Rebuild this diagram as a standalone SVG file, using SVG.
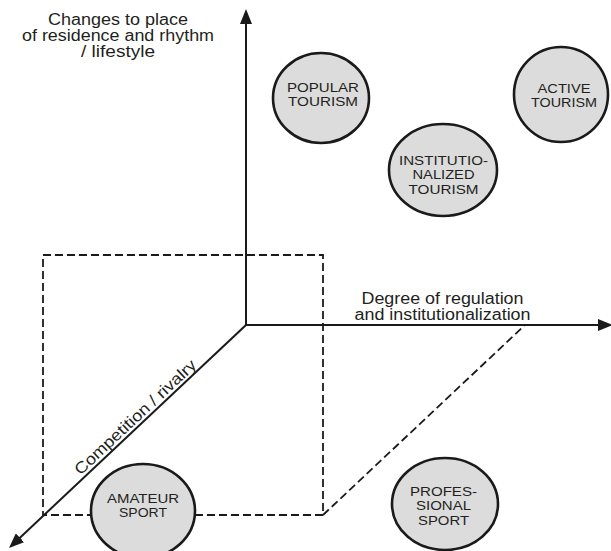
<svg xmlns="http://www.w3.org/2000/svg" width="611" height="551" viewBox="0 0 611 551">
<style>
.axis{stroke:#1a1a1a;stroke-width:2;fill:none}
.dash{stroke:#1a1a1a;stroke-width:1.8;fill:none;stroke-dasharray:8 4}
.node ellipse{fill:#dcdcdc;stroke:#1a1a1a;stroke-width:2.6}
.node text{font-family:"Liberation Sans",Arial,sans-serif;font-size:12.8px;fill:#231f20;text-anchor:middle}
.lbl{font-family:"Liberation Sans",Arial,sans-serif;font-size:16px;fill:#231f20;text-anchor:middle}
</style>
<defs>
<marker id="arr" viewBox="0 0 15 12" refX="4" refY="6" markerWidth="15" markerHeight="12" markerUnits="userSpaceOnUse" orient="auto">
<path d="M0,0 L15,6 L0,12 z" fill="#1a1a1a"/>
</marker>
</defs>
<rect width="611" height="551" fill="#ffffff"/>
<g id="connectors">
<rect class="dash" x="43" y="255" width="280" height="260"/>
<line class="dash" x1="323" y1="515" x2="525" y2="325"/>
<line class="axis" x1="246" y1="326" x2="246" y2="20" marker-end="url(#arr)"/>
<line class="axis" x1="245" y1="325" x2="602" y2="325" marker-end="url(#arr)"/>
<line class="axis" x1="246" y1="325" x2="17" y2="540.5" marker-end="url(#arr)"/>
</g>
<g id="labels">
<text class="lbl" x="118" y="25" textLength="140" lengthAdjust="spacingAndGlyphs">Changes to place</text>
<text class="lbl" x="118" y="41" textLength="192" lengthAdjust="spacingAndGlyphs">of residence and rhythm</text>
<text class="lbl" x="118" y="57" textLength="74" lengthAdjust="spacingAndGlyphs">/ lifestyle</text>
<text class="lbl" x="442.5" y="304" textLength="162" lengthAdjust="spacingAndGlyphs">Degree of regulation</text>
<text class="lbl" x="442.5" y="320" textLength="176" lengthAdjust="spacingAndGlyphs">and institutionalization</text>
<text class="lbl" x="139" y="421" transform="rotate(-43.1 139 421)" textLength="160" lengthAdjust="spacingAndGlyphs">Competition / rivalry</text>
</g>
<g id="popular-tourism" class="node">
<ellipse cx="321" cy="98" rx="48" ry="45"/>
<text x="323" y="91.5" textLength="72" lengthAdjust="spacingAndGlyphs">POPULAR</text>
<text x="323" y="106" textLength="70" lengthAdjust="spacingAndGlyphs">TOURISM</text>
</g>
<g id="institutionalized-tourism" class="node">
<ellipse cx="443" cy="170" rx="54" ry="46"/>
<text x="443.5" y="164.5" textLength="89" lengthAdjust="spacingAndGlyphs">INSTITUTIO-</text>
<text x="443.5" y="179" textLength="62" lengthAdjust="spacingAndGlyphs">NALIZED</text>
<text x="443.5" y="193.5" textLength="70" lengthAdjust="spacingAndGlyphs">TOURISM</text>
</g>
<g id="active-tourism" class="node">
<ellipse cx="561" cy="94.5" rx="47" ry="47.5"/>
<text x="564" y="92.5" textLength="53" lengthAdjust="spacingAndGlyphs">ACTIVE</text>
<text x="564" y="107" textLength="66" lengthAdjust="spacingAndGlyphs">TOURISM</text>
</g>
<g id="amateur-sport" class="node">
<ellipse cx="143" cy="511" rx="52" ry="47"/>
<text x="143" y="502.5" textLength="72" lengthAdjust="spacingAndGlyphs">AMATEUR</text>
<text x="143" y="517" textLength="48" lengthAdjust="spacingAndGlyphs">SPORT</text>
</g>
<g id="professional-sport" class="node">
<ellipse cx="445" cy="504" rx="53" ry="46"/>
<text x="443.5" y="495.5" textLength="67" lengthAdjust="spacingAndGlyphs">PROFES-</text>
<text x="443.5" y="510" textLength="55" lengthAdjust="spacingAndGlyphs">SIONAL</text>
<text x="443.5" y="524.5" textLength="51" lengthAdjust="spacingAndGlyphs">SPORT</text>
</g>
</svg>
